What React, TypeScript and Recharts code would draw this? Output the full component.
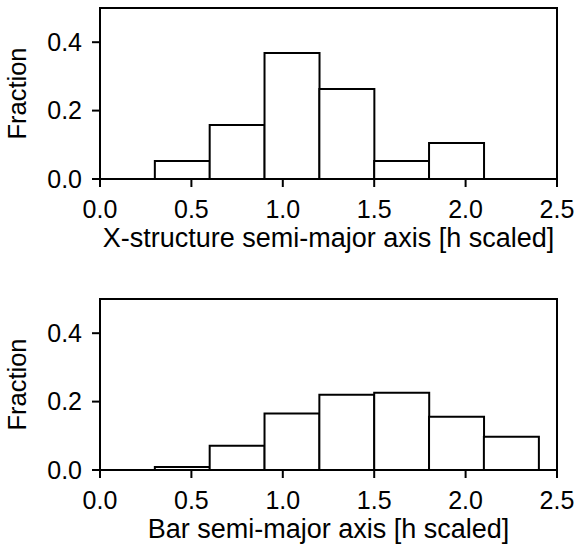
import React from 'react';
import { ComposedChart, Bar, XAxis, YAxis, ReferenceArea } from 'recharts';

const binCenters = [0.15, 0.45, 0.75, 1.05, 1.35, 1.65, 1.95, 2.25];
const xStructureFraction = [0, 0.0526, 0.1579, 0.3684, 0.2632, 0.0526, 0.1053, 0];
const barFraction = [0, 0.009, 0.071, 0.165, 0.22, 0.226, 0.156, 0.097];
const xTicks = [0, 0.5, 1.0, 1.5, 2.0, 2.5];
const yTicks = [0, 0.2, 0.4];
const xLabels = ['X-structure semi-major axis [h scaled]', 'Bar semi-major axis [h scaled]'];
const yLabel = 'Fraction';

const FONT = '"Liberation Sans", Arial, Helvetica, sans-serif';
const FS = 25;

const fmt = (v: number) => v.toFixed(1);

function XLabel(props: any) {
  const vb = props.viewBox || {};
  return (
    <text
      x={vb.x + vb.width / 2}
      y={vb.y + 67.5}
      textAnchor="middle"
      fontFamily={FONT}
      fontSize={27}
      fill="#000"
    >
      {props.value}
    </text>
  );
}

function YLabel(props: any) {
  const vb = props.viewBox || {};
  const cy = vb.y + vb.height / 2;
  return (
    <text
      transform={`translate(25.5, ${cy}) rotate(-90)`}
      x={0}
      y={0}
      textAnchor="middle"
      fontFamily={FONT}
      fontSize={25.5}
      fill="#000"
    >
      {props.value}
    </text>
  );
}

function Hist({ values, xLabel, top, height }: { values: number[]; xLabel: string; top: number; height: number }) {
  const data = binCenters.map((c, i) => ({ center: c, frac: values[i] }));
  const tickStyle = { fontSize: FS, fill: '#000', fontFamily: FONT };
  return (
    <ComposedChart
      width={577}
      height={height}
      data={data}
      margin={{ top, right: 20, left: 0, bottom: 0 }}
      barCategoryGap={0}
      barGap={0}
    >
      <XAxis
        dataKey="center"
        type="number"
        domain={[0, 2.5]}
        ticks={xTicks}
        tickFormatter={fmt}
        allowDataOverflow
        height={height - top - 171}
        tick={tickStyle}
        tickSize={8}
        tickMargin={13}
        axisLine={{ stroke: '#000', strokeWidth: 2 }}
        tickLine={{ stroke: '#000', strokeWidth: 2 }}
        label={<XLabel value={xLabel} />}
      />
      <YAxis
        type="number"
        domain={[0, 0.5]}
        ticks={yTicks}
        tickFormatter={fmt}
        allowDataOverflow
        width={100}
        tick={tickStyle}
        tickSize={8}
        tickMargin={10}
        axisLine={{ stroke: '#000', strokeWidth: 2 }}
        tickLine={{ stroke: '#000', strokeWidth: 2 }}
        label={<YLabel value={yLabel} />}
      />
      <ReferenceArea x1={0} x2={2.5} y1={0} y2={0.5} fill="none" stroke="#000" strokeWidth={2} />
      <Bar dataKey="frac" fill="#fff" stroke="#000" strokeWidth={2} isAnimationActive={false} />
    </ComposedChart>
  );
}

export default function App() {
  return (
    <div style={{ position: 'absolute', left: 0, top: 0, width: 577, height: 548, background: '#fff' }}>
      <Hist values={xStructureFraction} xLabel={xLabels[0]} top={8} height={274} />
      <Hist values={barFraction} xLabel={xLabels[1]} top={25} height={274} />
    </div>
  );
}
